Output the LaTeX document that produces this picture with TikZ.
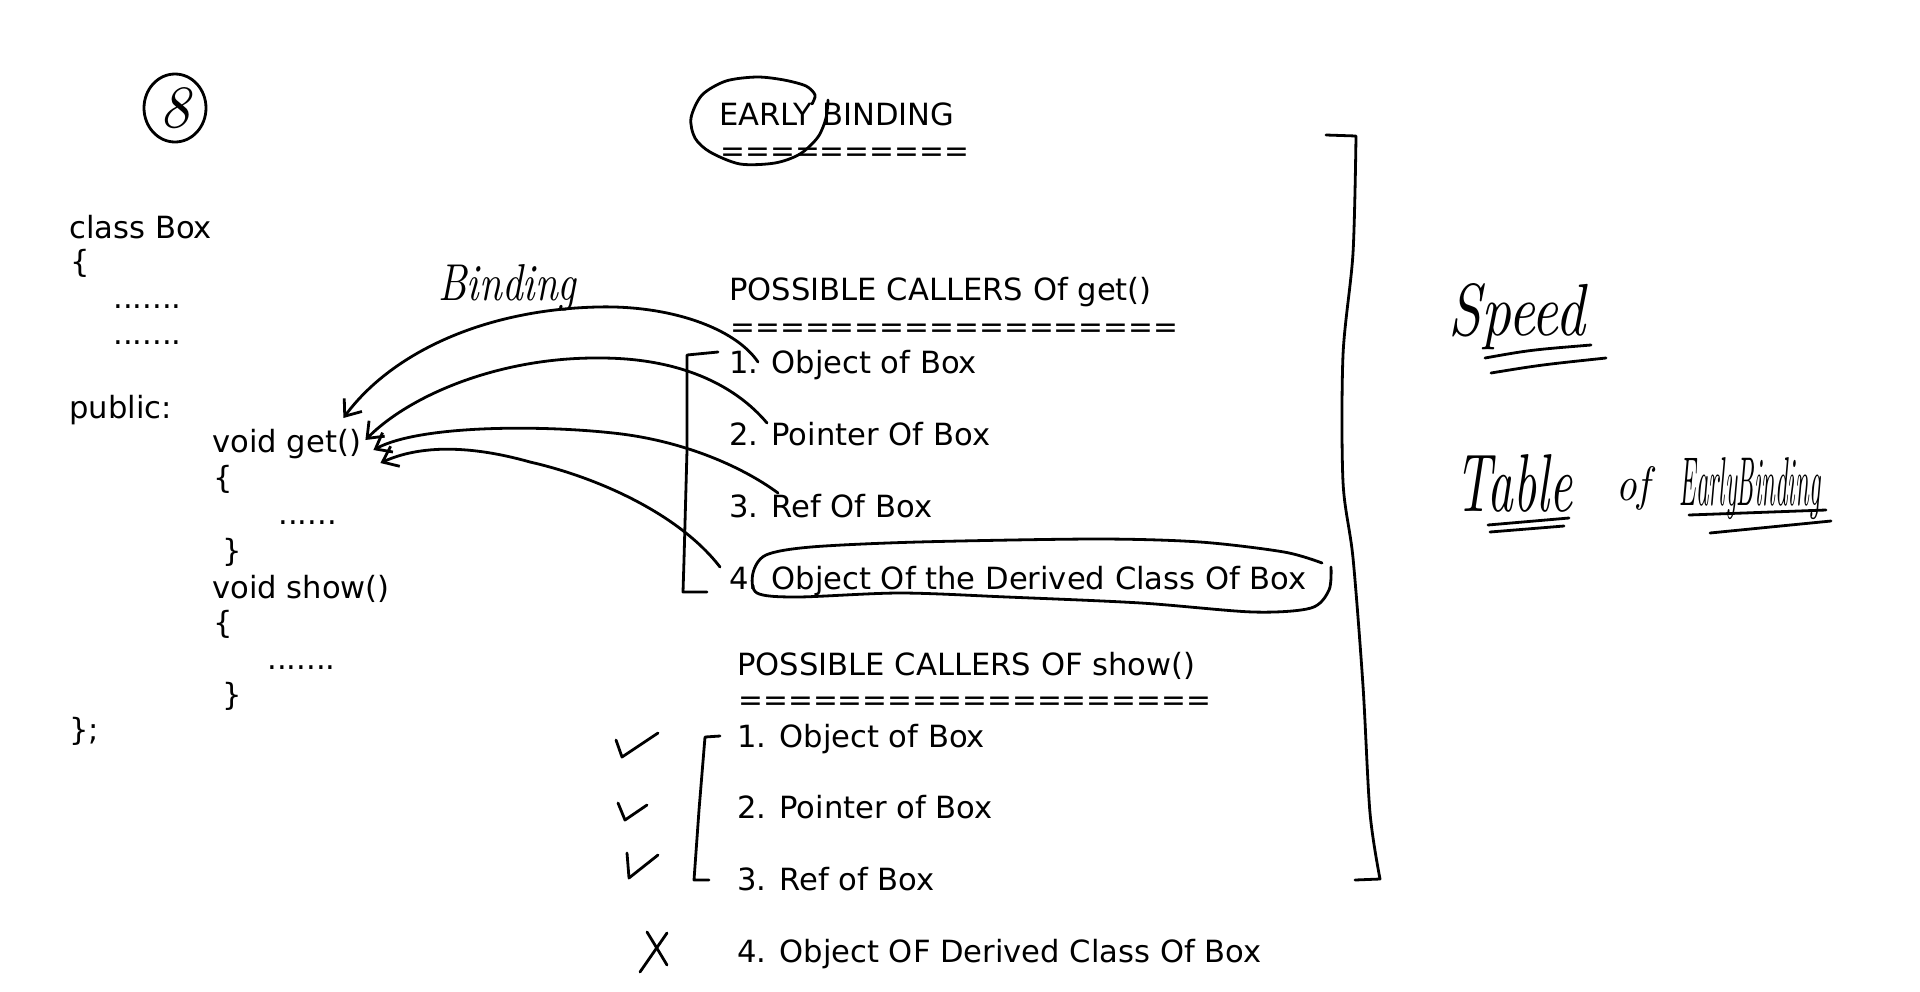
\documentclass[tikz,border=0pt]{standalone}
\usepackage{fontspec}
\usepackage{graphicx}
\usetikzlibrary{arrows.meta,shapes.geometric,calc}
\newfontfamily\codefont{DejaVu Sans}

\tikzset{
  code/.style={anchor=base west, inner sep=0pt, font=\codefont\fontsize{15.3}{18}\selectfont},
  eqline/.style={code, font=\codefont\fontsize{14.85}{18}\selectfont},
  scrawl/.style={anchor=base west, inner sep=0pt, font=\itshape},
  hand/.style={line width=1.4pt, line cap=round, line join=round},
  arr/.style={hand, -{Straight Barb[length=7pt,width=11pt]}},
}

\begin{document}
\begin{tikzpicture}[x=0.5pt, y=-0.5pt]
\fill[white] (0,0) rectangle (1920,991);
\useasboundingbox (0,0) rectangle (1920,991);

% the class
\node[hand, draw, ellipse, minimum width=31pt, minimum height=34pt, inner sep=0pt] (num8) at (175,108) {\resizebox{!}{20pt}{\itshape 8}};
\node[code] (cls) at (69,238) {class Box};
\node[code] (ob) at (70,272) {\{};
\node[code] (d1) at (113,308) {.......};
\node[code] (d2) at (113,344) {.......};
\node[code] (pub) at (69,418) {public:};
\node[code] (get) at (212,452) {void get()};
\node[code] (gob) at (213,488) {\{};
\node[code] (gd) at (278,524) {......};
\node[code] (gcb) at (222,561) {\}};
\node[code] (show) at (212,598) {void show()};
\node[code] (sob) at (213,633) {\{};
\node[code] (sd) at (267,669) {.......};
\node[code] (scb) at (222,705) {\}};
\node[code] (cend) at (69,740) {\};};

% early binding lists
\node[code] (eb) at (719,125) {EARLY BINDING};
\node[eqline] (ebeq) at (720,161) {==========};
\node[code] (pg) at (729,300) {POSSIBLE CALLERS Of get()};
\node[eqline] (pgeq) at (730,337) {==================};
\node[code] (g1) at (729,373) {1. Object of Box};
\node[code] (g2) at (729,445) {2. Pointer Of Box};
\node[code] (g3) at (729,517) {3. Ref Of Box};
\node[code] (g4) at (729,589) {4. Object Of the Derived Class Of Box};
\node[code] (ps) at (737,675) {POSSIBLE CALLERS OF show()};
\node[eqline] (pseq) at (738,710) {===================};
\node[code] (s1) at (737,747) {1. Object of Box};
\node[code] (s2) at (737,818) {2. Pointer of Box};
\node[code] (s3) at (737,890) {3. Ref of Box};
\node[code] (s4) at (737,962) {4. Object OF Derived Class Of Box};

% notes
\node[scrawl] (bind) at (438,300) {\resizebox{69pt}{18pt}{Binding}};
\node[scrawl] (speed) at (1448,335) {\resizebox{68.5pt}{26pt}{Speed}};
\node[scrawl] (table) at (1455,511) {\resizebox{58.5pt}{28.5pt}{Table}};
\node[scrawl] (of) at (1616,500) {\resizebox{16.5pt}{17pt}{of}};
\node[scrawl] (early) at (1679,505) {\resizebox{70.5pt}{24pt}{EarlyBinding}};

% bindings to get()
\coordinate (a1s) at ($(g1.base west)+(29,-11)$);
\coordinate (a2s) at ($(g2.base west)+(38,-22)$);
\coordinate (a3s) at ($(g3.base west)+(49,-24)$);
\coordinate (a4s) at ($(g4.base west)+(-9,-22)$);
\coordinate (a1e) at ($(get.base east)+(-18,-34)$);
\coordinate (a2e) at ($(get.base east)+(4,-12)$);
\coordinate (a3e) at ($(get.base east)+(12,-2)$);
\coordinate (a4e) at ($(get.base east)+(19,11)$);
\draw[arr] (a1s) .. controls (735,328) and (670,305) .. (597,307) .. controls (480,310) and (390,355) .. (a1e);
\draw[arr] (a2s) .. controls (735,385) and (680,358) .. (600,358) .. controls (500,357) and (410,395) .. (a2e);
\draw[arr] (a3s) .. controls (740,465) and (680,440) .. (613,433) .. controls (540,425) and (420,425) .. (a3e);
\draw[arr] (a4s) .. controls (680,515) and (600,478) .. (530,462) .. controls (470,445) and (420,445) .. (a4e);

% circles and brackets
\draw[hand] plot[smooth] coordinates {(812,104) (815,95) (806,86) (784,80) (757,77) (726,81) (702,95) (691,118) (695,138) (710,152) (740,164) (775,163) (800,154) (818,137) (826,118) (828,100)};
\draw[hand] plot[smooth] coordinates {(1322,563) (1284,552) (1200,542) (1096,539) (918,542) (811,547) (766,555) (753,573) (757,593) (797,597) (900,593) (1007,597) (1141,603) (1253,612) (1311,608) (1329,590) (1331,567)};
\draw[hand] (718,352) -- (687,355) -- (687,450) -- (684,560) -- (683,592) -- (707,592);
\draw[hand] (720,736) -- (705,737) -- (699,810) -- (694,880) -- (709,880);
\draw[hand] (1326,135) -- plot[smooth] coordinates {(1356,136) (1353,253) (1343,355) (1343,482) (1353,558) (1363,686) (1370,813) (1380,879)} -- (1355,880);

% ticks
\draw[hand] (616,740) -- (622,757) -- (658,733);
\draw[hand] (618,803) -- (625,820) -- (647,805);
\draw[hand] (627,853) -- (629,878) -- (658,855);
\draw[hand] (647,932) .. controls (655,945) .. (667,965);
\draw[hand] (667,933) -- (640,972);

% underlines
\draw[hand] (1485,358) .. controls (1530,350) .. (1591,345);
\draw[hand] (1491,373) .. controls (1540,365) .. (1606,358);
\draw[hand] (1488,525) -- (1569,518);
\draw[hand] (1490,532) -- (1564,526);
\draw[hand] (1689,515) -- (1826,510);
\draw[hand] (1710,533) -- (1831,521);
\end{tikzpicture}
\end{document}
